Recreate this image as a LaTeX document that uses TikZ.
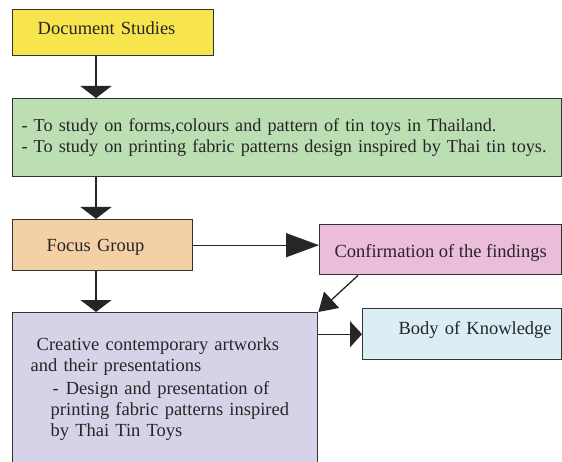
\documentclass[tikz,border=0pt]{standalone}
\usepackage{fontspec}
\setmainfont{Liberation Serif}
\usetikzlibrary{arrows.meta,positioning}
\definecolor{docyellow}{RGB}{248,228,76}
\definecolor{aimgreen}{RGB}{187,222,178}
\definecolor{focusorange}{RGB}{244,208,166}
\definecolor{confpink}{RGB}{236,189,218}
\definecolor{artpurple}{RGB}{214,211,232}
\definecolor{bodyblue}{RGB}{219,238,245}
\tikzstyle{stage}=[rectangle,draw=black!80,line width=1.4pt,anchor=north west,inner ysep=0pt,text=black!85]
\tikzstyle{oneline}=[text height=13pt,text depth=4pt]
\tikzstyle{link}=[line width=1.3pt,draw=black!85]

\begin{document}
\begin{tikzpicture}[x=1pt,y=-1pt,>={Triangle[length=12pt,width=31pt]},font=\fontsize{18.5}{21}\selectfont]
    \useasboundingbox (0,0) rectangle (562,462);

    \node[stage,oneline,fill=docyellow,minimum height=46pt,text width=151pt,inner xsep=25pt,align=left,text depth=9pt] (docs) at (12,9) {Document Studies};
    \node[stage,fill=aimgreen,minimum height=78pt,text width=531pt,inner xsep=9pt,align=left,font=\fontsize{18.2}{21.5}\selectfont] (aims) at (12,98)
        {\mbox{-\hspace{6pt}To study on forms,colours and pattern of tin toys in Thailand.}\\
         \mbox{-\hspace{6pt}To study on printing fabric patterns design inspired by Thai tin toys.}};
    \node[stage,oneline,fill=focusorange,minimum height=51pt,text width=112pt,inner xsep=34pt,align=left,text height=17pt] (focus) at (12,219) {Focus Group};
    \node[stage,oneline,fill=confpink,minimum width=242pt,minimum height=50pt,text height=20pt] (confirm) at (319,224) {Confirmation of the findings};
    \node[stage,fill=artpurple,minimum height=152pt,text width=269pt,inner xsep=18pt,align=left] (artworks) at (12,312)
        {\hspace*{6pt}Creative contemporary artworks\\
         and their presentations\\[2pt]
         \hspace*{22pt}-\hspace{7pt}Design and presentation of\\
         \hspace*{20pt}printing fabric patterns inspired\\
         \hspace*{20pt}by Thai Tin Toys};
    \node[stage,oneline,fill=bodyblue,minimum height=51pt,text width=179pt,inner xsep=10pt,align=right,text depth=12pt] (body) at (362,308) {Body of Knowledge};

    \draw[link,->] ([xshift=84pt]docs.south west) -- ([xshift=84pt]aims.north west);
    \draw[link,->] ([xshift=84pt]aims.south west) -- ([xshift=84pt]focus.north west);
    \draw[link,->] ([xshift=84pt]focus.south west) -- ([xshift=84pt]artworks.north west);
    \draw[link,-{Triangle[length=33pt,width=24pt]}] (focus.east) -- (focus.east -| confirm.west);
    \draw[link,-{Triangle[length=18pt,width=22pt]}] ([xshift=39pt]confirm.south west) -- (artworks.north east);
    \draw[link,-{Triangle[length=12pt,width=26pt]}] (body.west -| artworks.east) -- (body.west);
\end{tikzpicture}
\end{document}
